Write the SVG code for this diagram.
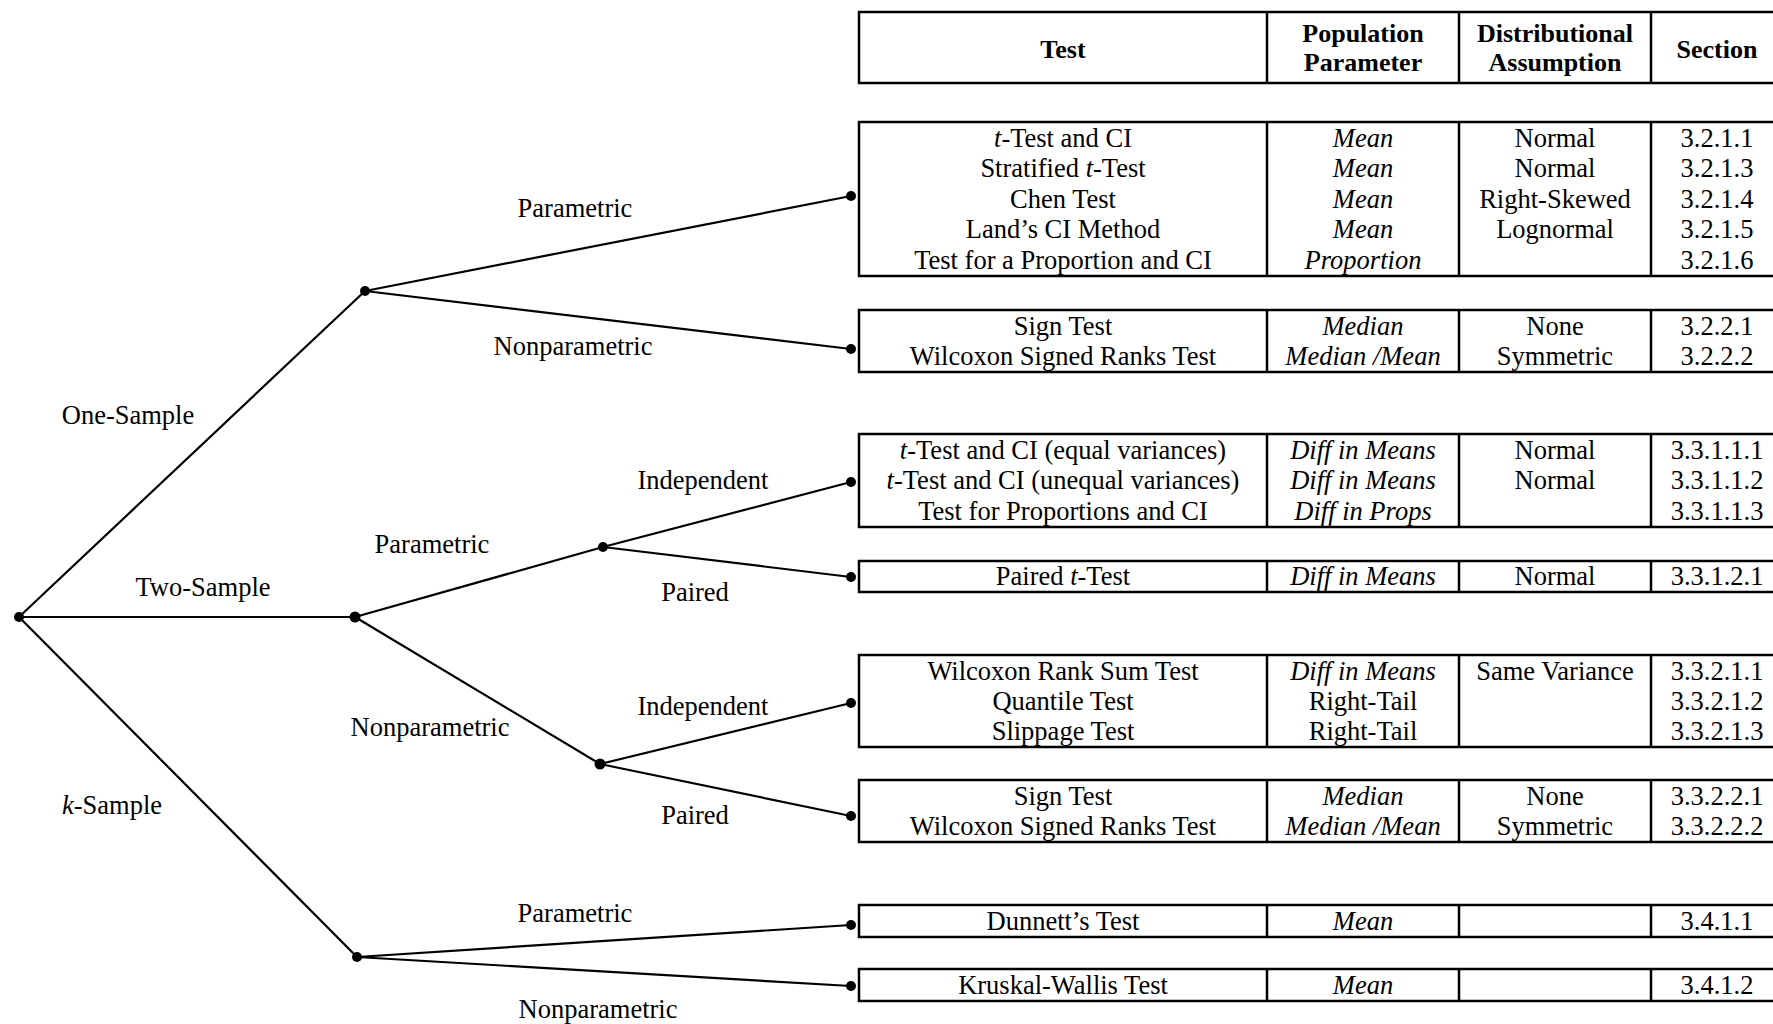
<svg xmlns="http://www.w3.org/2000/svg" width="1773" height="1024" viewBox="0 0 1773 1024">
<style>
text{font-family:"Liberation Serif","Times New Roman",serif;font-size:26.5px;fill:#000;text-anchor:middle}
.b{font-weight:bold;font-size:26px}
.i{font-style:italic}
.box{fill:none;stroke:#000;stroke-width:2.5}
.sep{stroke:#000;stroke-width:2.5}
.edge{stroke:#000;stroke-width:2.2;fill:none}
.dot{fill:#000}
</style>
<rect width="1773" height="1024" fill="#fff"/>

<g id="connectors">
<line class="edge" x1="19" y1="617" x2="365" y2="291"/>
<line class="edge" x1="19" y1="617" x2="355" y2="617"/>
<line class="edge" x1="19" y1="617" x2="357" y2="957"/>
<line class="edge" x1="365" y1="291" x2="851" y2="196"/>
<line class="edge" x1="365" y1="291" x2="851" y2="349"/>
<line class="edge" x1="355" y1="617" x2="603" y2="547"/>
<line class="edge" x1="355" y1="617" x2="600" y2="764"/>
<line class="edge" x1="603" y1="547" x2="851" y2="482"/>
<line class="edge" x1="603" y1="547" x2="851" y2="577"/>
<line class="edge" x1="600" y1="764" x2="851" y2="703"/>
<line class="edge" x1="600" y1="764" x2="851" y2="816"/>
<line class="edge" x1="357" y1="957" x2="851" y2="925"/>
<line class="edge" x1="357" y1="957" x2="851" y2="986"/>
</g>

<g id="edge-labels">
<text x="128" y="424">One-Sample</text>
<text x="203" y="596">Two-Sample</text>
<text x="112" y="814"><tspan class="i">k</tspan>-Sample</text>
<text x="575" y="217">Parametric</text>
<text x="573" y="355">Nonparametric</text>
<text x="432" y="553">Parametric</text>
<text x="430" y="736">Nonparametric</text>
<text x="703" y="489">Independent</text>
<text x="695" y="601">Paired</text>
<text x="703" y="715">Independent</text>
<text x="695" y="824">Paired</text>
<text x="575" y="922">Parametric</text>
<text x="598" y="1018">Nonparametric</text>
</g>

<g id="node-root"><circle class="dot" cx="19" cy="617" r="5"/></g>
<g id="node-one-sample"><circle class="dot" cx="365" cy="291" r="5"/></g>
<g id="node-two-sample"><circle class="dot" cx="355" cy="617" r="5.5"/></g>
<g id="node-k-sample"><circle class="dot" cx="357" cy="957" r="5"/></g>
<g id="node-two-param"><circle class="dot" cx="603" cy="547" r="5"/></g>
<g id="node-two-nonparam"><circle class="dot" cx="600" cy="764" r="5.5"/></g>
<g id="node-ends">
<circle class="dot" cx="851" cy="196" r="5"/>
<circle class="dot" cx="851" cy="349" r="5"/>
<circle class="dot" cx="851" cy="482" r="5"/>
<circle class="dot" cx="851" cy="577" r="5"/>
<circle class="dot" cx="851" cy="703" r="5"/>
<circle class="dot" cx="851" cy="816" r="5"/>
<circle class="dot" cx="851" cy="925" r="5"/>
<circle class="dot" cx="851" cy="986" r="5"/>
</g>

<g id="header">
<rect class="box" x="859" y="12" width="924" height="71"/>
<line class="sep" x1="1267" y1="12" x2="1267" y2="83"/>
<line class="sep" x1="1459" y1="12" x2="1459" y2="83"/>
<line class="sep" x1="1651" y1="12" x2="1651" y2="83"/>
<text class="b" x="1063" y="58">Test</text>
<text class="b" x="1363" y="42">Population</text>
<text class="b" x="1363" y="71">Parameter</text>
<text class="b" x="1555" y="42">Distributional</text>
<text class="b" x="1555" y="71">Assumption</text>
<text class="b" x="1717" y="58">Section</text>
</g>

<g id="group-one-param">
<rect class="box" x="859" y="122" width="924" height="154"/>
<line class="sep" x1="1267" y1="122" x2="1267" y2="276"/>
<line class="sep" x1="1459" y1="122" x2="1459" y2="276"/>
<line class="sep" x1="1651" y1="122" x2="1651" y2="276"/>
<text x="1063" y="147"><tspan class="i">t</tspan>-Test and CI</text>
<text x="1063" y="177.4">Stratified <tspan class="i">t</tspan>-Test</text>
<text x="1063" y="207.8">Chen Test</text>
<text x="1063" y="238.2">Land’s CI Method</text>
<text x="1063" y="268.6">Test for a Proportion and CI</text>
<text class="i" x="1363" y="147">Mean</text>
<text class="i" x="1363" y="177.4">Mean</text>
<text class="i" x="1363" y="207.8">Mean</text>
<text class="i" x="1363" y="238.2">Mean</text>
<text class="i" x="1363" y="268.6">Proportion</text>
<text x="1555" y="147">Normal</text>
<text x="1555" y="177.4">Normal</text>
<text x="1555" y="207.8">Right-Skewed</text>
<text x="1555" y="238.2">Lognormal</text>
<text x="1717" y="147">3.2.1.1</text>
<text x="1717" y="177.4">3.2.1.3</text>
<text x="1717" y="207.8">3.2.1.4</text>
<text x="1717" y="238.2">3.2.1.5</text>
<text x="1717" y="268.6">3.2.1.6</text>
</g>

<g id="group-one-nonparam">
<rect class="box" x="859" y="310" width="924" height="62"/>
<line class="sep" x1="1267" y1="310" x2="1267" y2="372"/>
<line class="sep" x1="1459" y1="310" x2="1459" y2="372"/>
<line class="sep" x1="1651" y1="310" x2="1651" y2="372"/>
<text x="1063" y="335">Sign Test</text>
<text x="1063" y="365.4">Wilcoxon Signed Ranks Test</text>
<text class="i" x="1363" y="335">Median</text>
<text class="i" x="1363" y="365.4">Median /Mean</text>
<text x="1555" y="335">None</text>
<text x="1555" y="365.4">Symmetric</text>
<text x="1717" y="335">3.2.2.1</text>
<text x="1717" y="365.4">3.2.2.2</text>
</g>

<g id="group-two-param-indep">
<rect class="box" x="859" y="434" width="924" height="93"/>
<line class="sep" x1="1267" y1="434" x2="1267" y2="527"/>
<line class="sep" x1="1459" y1="434" x2="1459" y2="527"/>
<line class="sep" x1="1651" y1="434" x2="1651" y2="527"/>
<text x="1063" y="459"><tspan class="i">t</tspan>-Test and CI (equal variances)</text>
<text x="1063" y="489.4"><tspan class="i">t</tspan>-Test and CI (unequal variances)</text>
<text x="1063" y="519.8">Test for Proportions and CI</text>
<text class="i" x="1363" y="459">Diff in Means</text>
<text class="i" x="1363" y="489.4">Diff in Means</text>
<text class="i" x="1363" y="519.8">Diff in Props</text>
<text x="1555" y="459">Normal</text>
<text x="1555" y="489.4">Normal</text>
<text x="1717" y="459">3.3.1.1.1</text>
<text x="1717" y="489.4">3.3.1.1.2</text>
<text x="1717" y="519.8">3.3.1.1.3</text>
</g>

<g id="group-two-param-paired">
<rect class="box" x="859" y="561" width="924" height="31"/>
<line class="sep" x1="1267" y1="561" x2="1267" y2="592"/>
<line class="sep" x1="1459" y1="561" x2="1459" y2="592"/>
<line class="sep" x1="1651" y1="561" x2="1651" y2="592"/>
<text x="1063" y="585">Paired <tspan class="i">t</tspan>-Test</text>
<text class="i" x="1363" y="585">Diff in Means</text>
<text x="1555" y="585">Normal</text>
<text x="1717" y="585">3.3.1.2.1</text>
</g>

<g id="group-two-nonparam-indep">
<rect class="box" x="859" y="655" width="924" height="92"/>
<line class="sep" x1="1267" y1="655" x2="1267" y2="747"/>
<line class="sep" x1="1459" y1="655" x2="1459" y2="747"/>
<line class="sep" x1="1651" y1="655" x2="1651" y2="747"/>
<text x="1063" y="679.5">Wilcoxon Rank Sum Test</text>
<text x="1063" y="709.9">Quantile Test</text>
<text x="1063" y="740.3">Slippage Test</text>
<text class="i" x="1363" y="679.5">Diff in Means</text>
<text x="1363" y="709.9">Right-Tail</text>
<text x="1363" y="740.3">Right-Tail</text>
<text x="1555" y="679.5">Same Variance</text>
<text x="1717" y="679.5">3.3.2.1.1</text>
<text x="1717" y="709.9">3.3.2.1.2</text>
<text x="1717" y="740.3">3.3.2.1.3</text>
</g>

<g id="group-two-nonparam-paired">
<rect class="box" x="859" y="780" width="924" height="62"/>
<line class="sep" x1="1267" y1="780" x2="1267" y2="842"/>
<line class="sep" x1="1459" y1="780" x2="1459" y2="842"/>
<line class="sep" x1="1651" y1="780" x2="1651" y2="842"/>
<text x="1063" y="805">Sign Test</text>
<text x="1063" y="835.4">Wilcoxon Signed Ranks Test</text>
<text class="i" x="1363" y="805">Median</text>
<text class="i" x="1363" y="835.4">Median /Mean</text>
<text x="1555" y="805">None</text>
<text x="1555" y="835.4">Symmetric</text>
<text x="1717" y="805">3.3.2.2.1</text>
<text x="1717" y="835.4">3.3.2.2.2</text>
</g>

<g id="group-k-param">
<rect class="box" x="859" y="905" width="924" height="32"/>
<line class="sep" x1="1267" y1="905" x2="1267" y2="937"/>
<line class="sep" x1="1459" y1="905" x2="1459" y2="937"/>
<line class="sep" x1="1651" y1="905" x2="1651" y2="937"/>
<text x="1063" y="929.5">Dunnett’s Test</text>
<text class="i" x="1363" y="929.5">Mean</text>
<text x="1717" y="929.5">3.4.1.1</text>
</g>

<g id="group-k-nonparam">
<rect class="box" x="859" y="969" width="924" height="32"/>
<line class="sep" x1="1267" y1="969" x2="1267" y2="1001"/>
<line class="sep" x1="1459" y1="969" x2="1459" y2="1001"/>
<line class="sep" x1="1651" y1="969" x2="1651" y2="1001"/>
<text x="1063" y="993.5">Kruskal-Wallis Test</text>
<text class="i" x="1363" y="993.5">Mean</text>
<text x="1717" y="993.5">3.4.1.2</text>
</g>
</svg>
